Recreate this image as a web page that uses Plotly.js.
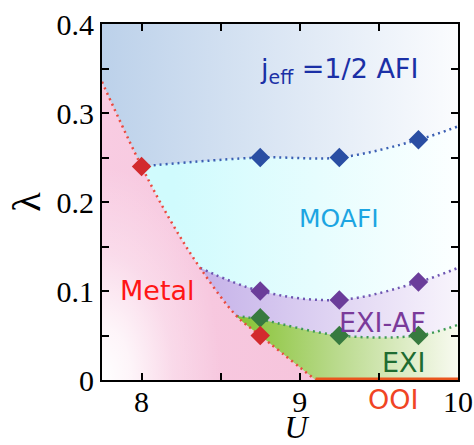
<!DOCTYPE html>
<html><head><meta charset="utf-8">
<script src="https://cdn.plot.ly/plotly-3.0.1.min.js"></script>
<style>html,body{margin:0;padding:0;background:#fff}#c{width:474px;height:445px}</style>
</head><body><div id="c"></div>
<script>
// Axis ranges
const uRange = [7.75, 10];
const lRange = [0, 0.4];
// Phase boundaries (U, lambda)
const metalU = [7.75, 8.0, 8.18, 8.37, 8.6, 8.75, 9.1];
const metalL = [0.335, 0.24, 0.18, 0.126, 0.072, 0.05, 0.0];
const afiU = [8.0, 8.75, 9.25, 9.75, 10.0];
const afiL = [0.24, 0.25, 0.25, 0.27, 0.285];
const exiafU = [8.37, 8.75, 9.25, 9.75, 10.0];
const exiafL = [0.126, 0.10, 0.09, 0.11, 0.126];
const exiU = [8.6, 8.75, 9.25, 9.75, 10.0];
const exiL = [0.072, 0.068, 0.05, 0.05, 0.062];
const ooiU = [9.1, 10.0];
const ooiL = [0.0, 0.0];
// Computed points
const bluePtsU = [8.75, 9.25, 9.75];
const bluePtsL = [0.25, 0.25, 0.27];
const purplePtsU = [8.75, 9.25, 9.75];
const purplePtsL = [0.10, 0.09, 0.11];
const greenPtsU = [8.75, 9.25, 9.75];
const greenPtsL = [0.07, 0.05, 0.05];
const redPtsU = [8.0, 8.75];
const redPtsL = [0.24, 0.05];
// Tick labels
const xTicks = [8, 9, 10];
const yTicks = [0, 0.1, 0.2, 0.3, 0.4];

const SERIF = 'Liberation Serif, Times New Roman, Times, serif';

function fillTrace(x, y, scale, start, stop, shape) {
  return {x: x, y: y, type: 'scatter', mode: 'lines', fill: 'tozeroy',
    line: {width: 0, shape: shape || 'spline', smoothing: 1},
    fillgradient: {type: 'horizontal', start: start, stop: stop, colorscale: scale},
    hoverinfo: 'skip', showlegend: false};
}
function dotLine(x, y, color) {
  return {x: x, y: y, type: 'scatter', mode: 'lines',
    line: {color: color, width: 2.5, dash: '2px,4px', shape: 'spline', smoothing: 1},
    hoverinfo: 'skip', showlegend: false};
}
function pts(x, y, color) {
  return {x: x, y: y, type: 'scatter', mode: 'markers',
    marker: {symbol: 'diamond', size: 15, color: color}, hoverinfo: 'skip', showlegend: false};
}

// soft white glow centred on the lower-left corner of the plot (shading only)
const gU = 0.75, gL = 0.24;
const glow = {
  x: [uRange[0] - gU, uRange[0] + gU, uRange[0] + gU, uRange[0] - gU],
  y: [lRange[0] - gL, lRange[0] - gL, lRange[0] + gL, lRange[0] + gL],
  type: 'scatter', mode: 'lines', fill: 'toself', line: {width: 0},
  fillgradient: {type: 'radial', colorscale: [[0, 'rgba(255,255,255,1)'], [0.25, 'rgba(255,255,255,0.8)'], [0.6, 'rgba(255,255,255,0.3)'], [1, 'rgba(255,255,255,0)']]},
  hoverinfo: 'skip', showlegend: false
};

const data = [
  fillTrace(uRange, [lRange[1], lRange[1]], [[0, '#bcd1ea'], [1, '#fbfcfe']], 7.75, 10, 'linear'),
  fillTrace(afiU, afiL, [[0, '#d0fbfd'], [1, '#fcffff']], 8.2, 10),
  fillTrace(exiafU, exiafL, [[0, '#c6b3e9'], [1, '#f8f4fc']], 8.4, 10),
  fillTrace(exiU, exiL, [[0, '#86c232'], [0.45, '#b9da8c'], [1, '#f8faf0']], 8.6, 10),
  fillTrace(metalU, metalL, [[0, '#f8cce2'], [1, '#f6c4dc']], 7.75, 9.1),
  glow,
  dotLine(afiU, afiL, '#3b5fb3'),
  dotLine(exiafU, exiafL, '#6e56b2'),
  dotLine(exiU, exiL, '#3f9a55'),
  dotLine(metalU, metalL, '#ea4a3e'),
  pts(bluePtsU, bluePtsL, '#2a4ea3'),
  pts(purplePtsU, purplePtsL, '#6b3d9a'),
  pts(greenPtsU, greenPtsL, '#377a3f'),
  pts(redPtsU, redPtsL, '#d22a2e'),
  {x: ooiU, y: ooiL, type: 'scatter', mode: 'lines', cliponaxis: false,
   line: {color: '#ea561e', width: 5}, hoverinfo: 'skip', showlegend: false}
];

const lab = (t, x, y, color, size) => ({text: t, x: x, y: y, xref: 'x', yref: 'y',
  showarrow: false, font: {family: 'DejaVu Sans', size: size || 26, color: color}});

const layout = {
  width: 474, height: 445,
  margin: {l: 102, r: 16, t: 24, b: 65},
  paper_bgcolor: '#fff', plot_bgcolor: '#fff',
  font: {family: SERIF, size: 30, color: '#000'},
  showlegend: false,
  xaxis: {range: uRange, tickvals: xTicks, ticktext: xTicks.map(String),
    ticks: 'inside', ticklen: 7, tickwidth: 2, tickcolor: '#000',
    minor: {dtick: 0.5, tick0: 8, ticks: 'inside', ticklen: 7, tickwidth: 2, tickcolor: '#000'},
    showline: true, linecolor: '#000', linewidth: 2, mirror: 'ticks',
    showgrid: false, zeroline: false, ticklabelstandoff: -6,
    tickfont: {family: SERIF, size: 30, color: '#000'},
    title: {text: '&nbsp;&nbsp;&nbsp;&nbsp;<i>U</i>', font: {family: SERIF, size: 32, color: '#000'}, standoff: 11}},
  yaxis: {range: lRange, tickvals: yTicks, ticktext: yTicks.map(String),
    ticks: 'inside', ticklen: 7, tickwidth: 2, tickcolor: '#000',
    minor: {dtick: 0.05, tick0: 0, ticks: 'inside', ticklen: 7, tickwidth: 2, tickcolor: '#000'},
    showline: true, linecolor: '#000', linewidth: 2, mirror: 'ticks',
    showgrid: false, zeroline: false,
    tickfont: {family: SERIF, size: 30, color: '#000'},
    title: {text: 'λ', font: {family: SERIF, size: 40, color: '#000'}, standoff: 4}},
  annotations: [
    lab('j<sub>eff</sub> =1/2 AFI', 9.25, 0.348, '#1b30a6', 27),
    lab('MOAFI', 9.25, 0.182, '#1ca5e2', 25),
    lab('Metal', 8.1, 0.101, '#ff1616', 27),
    lab('EXI-AF', 9.52, 0.065, '#7a3a9a', 27),
    lab('EXI', 9.66, 0.02, '#1e6c31', 27),
    {text: 'OOI', x: 9.59, y: -0.056, xref: 'x', yref: 'paper', yanchor: 'middle', showarrow: false,
     font: {family: 'DejaVu Sans', size: 27, color: '#f04424'}}
  ]
};
Plotly.newPlot('c', data, layout, {displayModeBar: false, staticPlot: true});
</script></body></html>
